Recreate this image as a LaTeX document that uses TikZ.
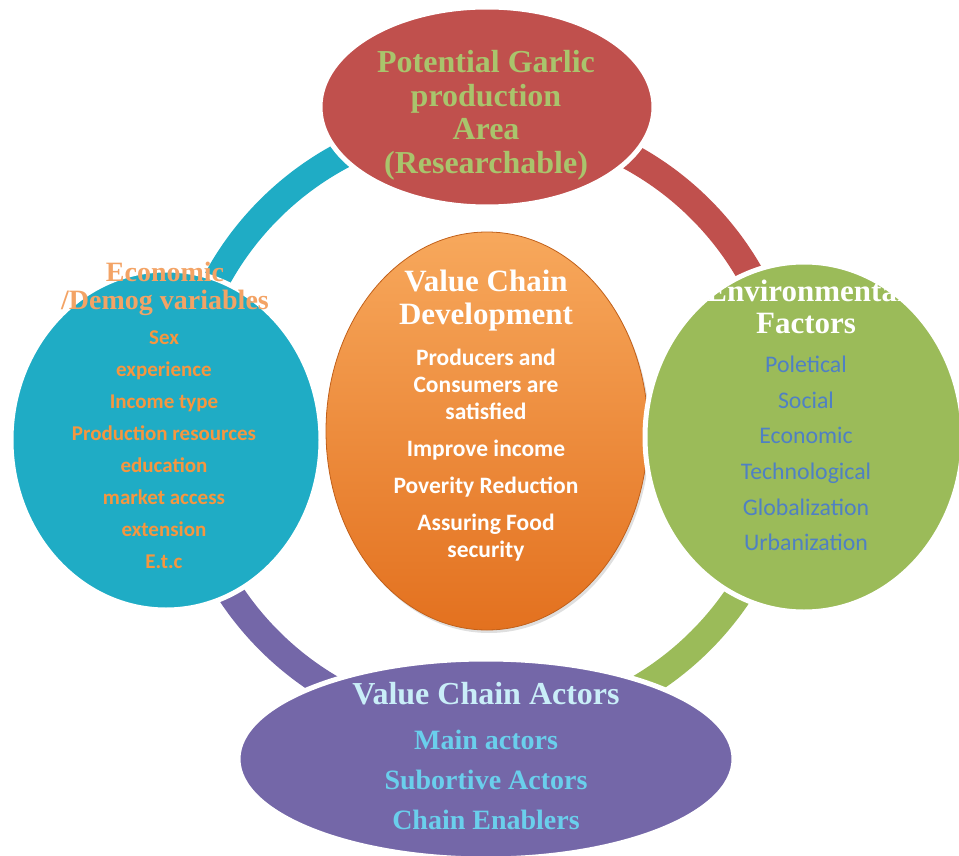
\documentclass[tikz,border=0pt]{standalone}
\usepackage{fontspec}
\setmainfont{Liberation Serif}
\newfontfamily\calib{Carlito}
\usetikzlibrary{shapes.geometric,shadows}
\definecolor{cRed}{HTML}{C0504D}
\definecolor{cTeal}{HTML}{1FACC5}
\definecolor{cGreen}{HTML}{9BBB59}
\definecolor{cPurple}{HTML}{7467A8}
\definecolor{cOrTop}{HTML}{F7A85C}
\definecolor{cOrMid}{HTML}{F28B35}
\definecolor{cOrBot}{HTML}{E3711F}
\definecolor{tRed}{HTML}{A9C46C}
\definecolor{tTealTitle}{HTML}{F3A365}
\definecolor{tTeal}{HTML}{F6963F}
\definecolor{tGreen}{HTML}{4F80C4}
\definecolor{tPurTitle}{HTML}{C9EEF8}
\definecolor{tPur}{HTML}{6ACFEC}
\begin{document}
\begin{tikzpicture}[x=1pt,y=-1pt,
  blob/.style={ellipse, draw=white, line width=5pt, inner sep=0pt},
  ringseg/.style={line width=27pt},
  txt/.style={align=center, inner sep=0pt},
  serifbig/.style={txt, font=\bfseries\fontsize{32}{33.5}\selectfont},
]
\useasboundingbox (0,0) rectangle (959,856);
\coordinate (c) at (485,425);
% ring
\draw[ringseg, cTeal]   (c) ++(90:305pt)  arc[start angle=90,  end angle=180, radius=305pt];
\draw[ringseg, cRed]    (c) ++(0:305pt)   arc[start angle=0,   end angle=90,  radius=305pt];
\draw[ringseg, cGreen]  (c) ++(270:305pt) arc[start angle=270, end angle=360, radius=305pt];
\draw[ringseg, cPurple] (c) ++(180:305pt) arc[start angle=180, end angle=270, radius=305pt];
% ellipses
\node[ellipse, inner sep=0pt, minimum width=322pt, minimum height=398pt,
      top color=cOrTop, middle color=cOrMid, bottom color=cOrBot,
      draw=cOrBot!85!black, line width=0.8pt,
      drop shadow={opacity=0.25, shadow xshift=2pt, shadow yshift=-3pt}] (core) at (487,431) {};
\node[blob, fill=cTeal,   minimum width=310pt, minimum height=340pt] (econ) at (166,440) {};
\node[blob, fill=cRed,    minimum width=334pt, minimum height=200pt] (area) at (487,107) {};
\node[blob, fill=cGreen,  minimum width=318pt, minimum height=350pt] (env)  at (804,437) {};
\node[blob, fill=cPurple, minimum width=496pt, minimum height=200pt] (act)  at (486,759) {};
% texts
\node[serifbig, text=tRed] (areaT) at (486,115.5)
  {Potential Garlic\\production\\Area\\(Researchable)};
\node[txt, text=tTealTitle, font=\bfseries\fontsize{28}{28}\selectfont] (econT) at (165,288.5)
  {Economic\\/Demog variables};
\node[txt, text=tTeal, font=\calib\bfseries\fontsize{21}{32}\selectfont] (econL) at (164,449.5)
  {Sex\\experience\\Income type\\Production resources\\education\\market access\\extension\\E.t.c};
\node[txt, text=white, font=\bfseries\fontsize{31}{32}\selectfont] (envT) at (806,306.5)
  {Environmental\\Factors};
\node[txt, text=tGreen, font=\calib\fontsize{23.8}{35.6}\selectfont] (envL) at (806,453.5)
  {Poletical\\Social\\Economic\\Technological\\Globalization\\Urbanization};
\node[txt, text=white, font=\bfseries\fontsize{31}{33}\selectfont] (coreT) at (486,301)
  {Value Chain\\Development};
\node[txt, text=white, font=\calib\bfseries\fontsize{23.5}{27}\selectfont] (coreL) at (486,455)
  {Producers and\\Consumers are\\satisfied\\[10pt]Improve income\\[10pt]Poverity Reduction\\[10pt]Assuring Food\\security};
\node[txt, anchor=base, text=tPurTitle, font=\bfseries\fontsize{32}{33}\selectfont] (actT) at (486,704.5)
  {Value Chain Actors};
\node[txt, text=tPur, font=\bfseries\fontsize{28}{40}\selectfont] (actL) at (486,779.75)
  {Main actors\\Subortive Actors\\Chain Enablers};
\end{tikzpicture}
\end{document}
